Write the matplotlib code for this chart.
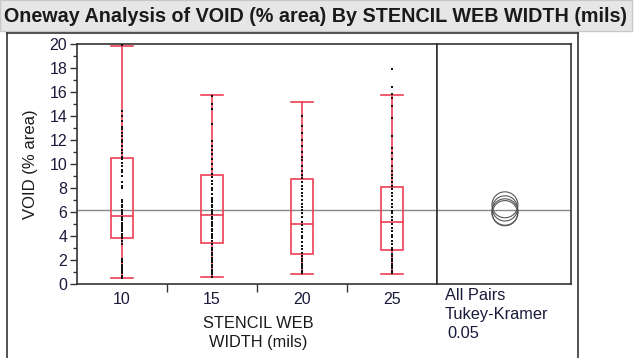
import numpy as np
import matplotlib.pyplot as plt
from matplotlib.patches import Rectangle, Ellipse
from matplotlib.lines import Line2D

plt.rcParams['font.family'] = ['Liberation Sans', 'DejaVu Sans']

# --- data ---
groups = ["10", "15", "20", "25"]
grand_mean = 6.17

# box stats: whisker low, Q1, median, Q3, whisker high
whisker_lo = [0.5, 0.6, 0.86, 0.86]
q1 = [3.86, 3.42, 2.53, 2.83]
median = [5.64, 5.75, 4.97, 5.2]
q3 = [10.5, 9.08, 8.75, 8.08]
whisker_hi = [19.86, 15.78, 15.2, 15.78]

pts_10 = [0.5, 0.7, 0.9, 1.0, 1.2, 1.3, 1.5, 1.6, 1.8, 1.9, 2.0, 2.1,
          3.3, 3.6, 3.8, 4.0, 4.2, 4.4, 4.5, 4.7, 4.8, 5.0, 5.1, 5.3, 5.5,
          5.6, 5.8, 6.0, 6.2, 6.4, 6.6, 6.8, 7.0,
          8.0, 8.2, 8.5, 9.0, 9.3, 9.5, 9.8, 10.1, 10.4, 10.6, 10.9, 11.2,
          11.5, 11.8, 12.0, 12.3, 12.6, 12.9, 13.1, 13.6, 14.0, 14.4, 19.9]
pts_15 = [0.6, 0.8, 1.0, 1.2, 1.4, 1.6, 1.8, 2.0, 2.2, 2.4, 2.6, 2.8, 3.0, 3.3,
          3.6, 3.8, 4.0, 4.2, 4.4, 4.6, 4.8, 5.0, 5.2, 5.4, 5.6, 5.8, 6.0,
          6.2, 6.4, 6.6, 6.8, 7.0, 7.2, 7.5, 7.8, 8.0, 8.3, 8.6, 8.9, 9.2,
          9.6, 10.0, 10.4, 10.8, 11.2, 11.5, 11.9, 13.3, 14.6, 15.0, 15.7]
pts_20 = [0.9, 1.1, 1.3, 1.5, 1.7, 1.9, 2.1, 2.3, 2.6, 2.9, 3.2, 3.5, 3.8,
          4.0, 4.3, 4.6, 4.9, 5.2, 5.6, 5.9, 6.2, 6.4, 6.7, 7.0, 7.3, 7.6,
          7.9, 8.2, 8.5, 8.8, 9.1, 9.4, 9.8, 10.3, 10.6, 11.0, 11.5, 12.0,
          12.6, 13.2, 14.0]
pts_25 = [0.9, 1.1, 1.3, 1.5, 1.7, 1.9, 2.1, 2.3, 2.5, 2.8, 3.0, 3.3, 3.6,
          3.9, 4.1, 4.4, 4.7, 5.0, 5.3, 5.6, 5.9, 6.1, 6.4, 6.7, 7.0, 7.3,
          7.6, 7.9, 8.2, 8.5, 8.8, 9.1, 9.4, 9.8, 10.4, 10.9, 11.3, 12.3,
          13.8, 14.8, 15.5, 15.8, 16.4, 17.9]
points = [pts_10, pts_15, pts_20, pts_25]

# comparison circles (means and radii, % area)
circle_means = [6.6, 6.3, 6.0, 5.9]
circle_radii = [1.08, 1.05, 1.1, 1.05]

W, H = 634, 358
fig = plt.figure(figsize=(W / 100, H / 100), dpi=100)

def fx(px):
    return px / W

def fy(py):
    return 1 - py / H

# title bar
fig.patches.append(Rectangle((0, fy(31)), fx(632), 31 / H, transform=fig.transFigure,
                             facecolor='#e6e6e6', edgecolor='#c8c8c8', lw=1))
fig.text(fx(4), fy(16), "Oneway Analysis of VOID (% area) By STENCIL WEB WIDTH (mils)",
         fontsize=14.2, fontweight='bold', color='#1a1a1a', va='center', ha='left')

# outer frame
fig.add_artist(Line2D([fx(7), fx(7)], [fy(33), fy(358)], color='#333333', lw=1.2))
fig.add_artist(Line2D([fx(7), fx(578)], [fy(33), fy(33)], color='#333333', lw=1.2))
fig.add_artist(Line2D([fx(578), fx(578)], [fy(33), fy(358)], color='#333333', lw=1.2))

ax_left, ax_right, ax_top, ax_bot = 77, 437, 44, 284
ax = fig.add_axes([fx(ax_left), fy(ax_bot), fx(ax_right - ax_left), (ax_bot - ax_top) / H])
pan = fig.add_axes([fx(ax_right), fy(ax_bot), fx(571 - ax_right), (ax_bot - ax_top) / H])

red = '#ee4055'
x = np.arange(len(groups))
box_w = 0.25
for i in range(len(groups)):
    ax.add_patch(Rectangle((x[i] - box_w / 2, q1[i]), box_w, q3[i] - q1[i],
                           facecolor='none', edgecolor=red, lw=1.2, zorder=3))
    ax.plot([x[i] - box_w / 2, x[i] + box_w / 2], [median[i]] * 2, color=red, lw=1.2, zorder=3)
    ax.plot([x[i], x[i]], [whisker_lo[i], q1[i]], color=red, lw=1.2, zorder=3)
    ax.plot([x[i], x[i]], [q3[i], whisker_hi[i]], color=red, lw=1.2, zorder=3)
    for w in (whisker_lo[i], whisker_hi[i]):
        ax.plot([x[i] - box_w / 2, x[i] + box_w / 2], [w, w], color=red, lw=1.2, zorder=3)
    ax.scatter([x[i]] * len(points[i]), points[i], marker='s', s=3, color='#111111',
               linewidths=0, zorder=4)

ax.axhline(grand_mean, color='#888888', lw=1, zorder=1)
ax.set_xlim(-0.5, 3.5)
ax.set_ylim(0, 20)
ax.set_yticks(np.arange(0, 21, 2))
ax.set_yticks(np.arange(1, 20, 2), minor=True)
ax.set_xticks(x)
ax.set_xticklabels(groups)
ax.set_xticks([0.5, 1.5, 2.5], minor=True)
ax.tick_params(axis='x', which='major', length=0, pad=6, labelsize=11.5, labelcolor='#1a1a3a')
ax.tick_params(axis='x', which='minor', length=6, width=1, color='#333333')
ax.tick_params(axis='y', which='major', length=5, width=1, labelsize=11.5, labelcolor='#1a1a3a',
               pad=2, color='#333333')
ax.tick_params(axis='y', which='minor', length=3, width=1, color='#333333')
for s in ax.spines.values():
    s.set_color('#333333')
    s.set_linewidth(1.2)
ax.set_ylabel("VOID (% area)", fontsize=12, color='#1a1a1a', labelpad=8)

# comparison circles panel
pan.set_xlim(0, 1)
pan.set_ylim(0, 20)
pan.set_xticks([])
pan.set_yticks([])
for s in pan.spines.values():
    s.set_color('#333333')
    s.set_linewidth(1.2)
pan.axhline(grand_mean, color='#888888', lw=1, zorder=1)
px_per_unit_y = (ax_bot - ax_top) / 20.0
panel_w = 571 - ax_right
for m, r in zip(circle_means, circle_radii):
    pan.add_patch(Ellipse((0.507, m), 2 * r * px_per_unit_y / panel_w, 2 * r,
                          facecolor='none', edgecolor='#555555', lw=0.8, zorder=3))

fig.text(fx(258), fy(323), "STENCIL WEB", fontsize=11.8, color='#1a1a1a', ha='center', va='center')
fig.text(fx(258), fy(342), "WIDTH (mils)", fontsize=11.8, color='#1a1a1a', ha='center', va='center')
fig.text(fx(445), fy(296), "All Pairs", fontsize=11.8, color='#1a1a3a', ha='left', va='center')
fig.text(fx(445), fy(315), "Tukey-Kramer", fontsize=11.8, color='#1a1a3a', ha='left', va='center')
fig.text(fx(447), fy(334), "0.05", fontsize=11.8, color='#1a1a3a', ha='left', va='center')

fig.savefig("out.png", dpi=100)
